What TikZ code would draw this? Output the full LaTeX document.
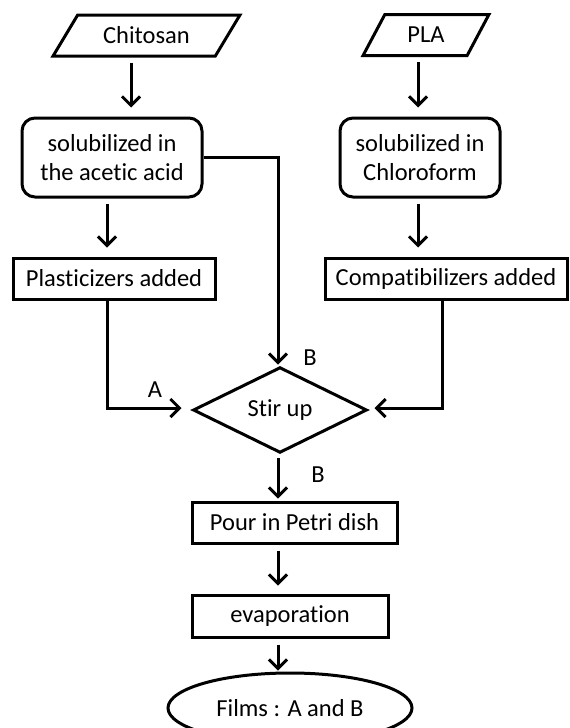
\documentclass[tikz,border=0pt]{standalone}
\usepackage{fontspec}
\setmainfont{Carlito}[RawFeature=-liga]
\usetikzlibrary{shapes.geometric,arrows.meta}
\begin{document}
\begin{tikzpicture}[x=1pt,y=-1pt,
		every node/.style = {align=center, line width=3pt, inner sep=0pt},
		inputbox/.style = {trapezium, draw, trapezium stretches=true,
			minimum height=41pt},
		solvebox/.style = {rectangle, draw, rounded corners=13pt,
			minimum height=79pt},
		stepbox/.style = {rectangle, draw, minimum height=41pt},
		stirbox/.style = {diamond, draw, minimum width=174pt, minimum height=82pt},
		endbox/.style = {ellipse, draw, minimum width=244pt, minimum height=70pt},
		flow/.style = {line width=3pt, shorten <=5pt, shorten >=9pt,
			-{Straight Barb[length=9pt,width=18pt]}}]
		\fontsize{24.5}{29}\selectfont
		\useasboundingbox (0,0) rectangle (570,728);
		\clip (0,0) rectangle (570,728);
		% inputs
		\node[inputbox, minimum width=187pt, trapezium left angle=48,
			trapezium right angle=132] (chit) at (146.5,35.5) {Chitosan};
		\node[inputbox, minimum width=126pt, trapezium left angle=58,
			trapezium right angle=122] (pla) at (426,35) {PLA};
		% solutions
		\node[solvebox, minimum width=180pt] (sol1) at (112,157.5) {solubilized in\\the acetic acid};
		\node[solvebox, minimum width=160pt] (sol2) at (420,157.5) {solubilized in\\Chloroform};
		\node[stepbox, minimum width=202pt] (plast) at (114,278.5) {Plasticizers added};
		\node[stepbox, minimum width=242pt] (compat) at (446,278.5) {Compatibilizers added};
		% mixing and casting
		\node[stirbox] (stir) at (280,410) {Stir up};
		\node[stepbox, minimum width=205pt] (pour) at (294.5,522.5) {Pour in Petri dish};
		\node[stepbox, minimum width=196pt, minimum height=42pt] (evap) at (290,616) {evaporation};
		\node[endbox] (films) at (290,708) {Films : A and B};
		% labels
		\node (labA) at (155,390) {A};
		\node (labB1) at (310,358) {B};
		\node (labB2) at (318,475) {B};
		% connectors
		\draw[flow] ([xshift=-15.5pt]chit.south) -- ([xshift=-15.5pt]chit.south |- sol1.north);
		\draw[flow] ([xshift=-5pt]sol1.south) -- ([xshift=-5pt]sol1.south |- plast.north);
		\draw[flow, shorten <=0pt, shorten >=1pt] (sol1.east) -| ([xshift=-2pt]stir.north);
		\draw[flow] ([xshift=-8pt]pla.south) -- ([xshift=-8pt]pla.south |- sol2.north);
		\draw[flow] ([xshift=-2pt]sol2.south) -- ([xshift=-2pt]sol2.south |- compat.north);
		\draw[flow, shorten <=0pt, shorten >=10pt] ([xshift=-7pt]plast.south) |- ([yshift=2pt]stir.west);
		\draw[flow, shorten <=0pt, shorten >=6pt] ([xshift=-4pt]compat.south) |- ([yshift=2pt]stir.east);
		\draw[flow, shorten <=4pt, shorten >=2pt] ([xshift=-2pt]stir.south) -- ([xshift=-2pt]stir.south |- pour.north);
		\draw[flow, shorten <=6pt, shorten >=8pt] ([xshift=-16.5pt]pour.south) -- ([xshift=-16.5pt]pour.south |- evap.north);
		\draw[flow, shorten <=6pt, shorten >=1pt] ([xshift=-12pt]evap.south) -- ([xshift=-12pt]evap.south |- films.north);
\end{tikzpicture}
\end{document}
